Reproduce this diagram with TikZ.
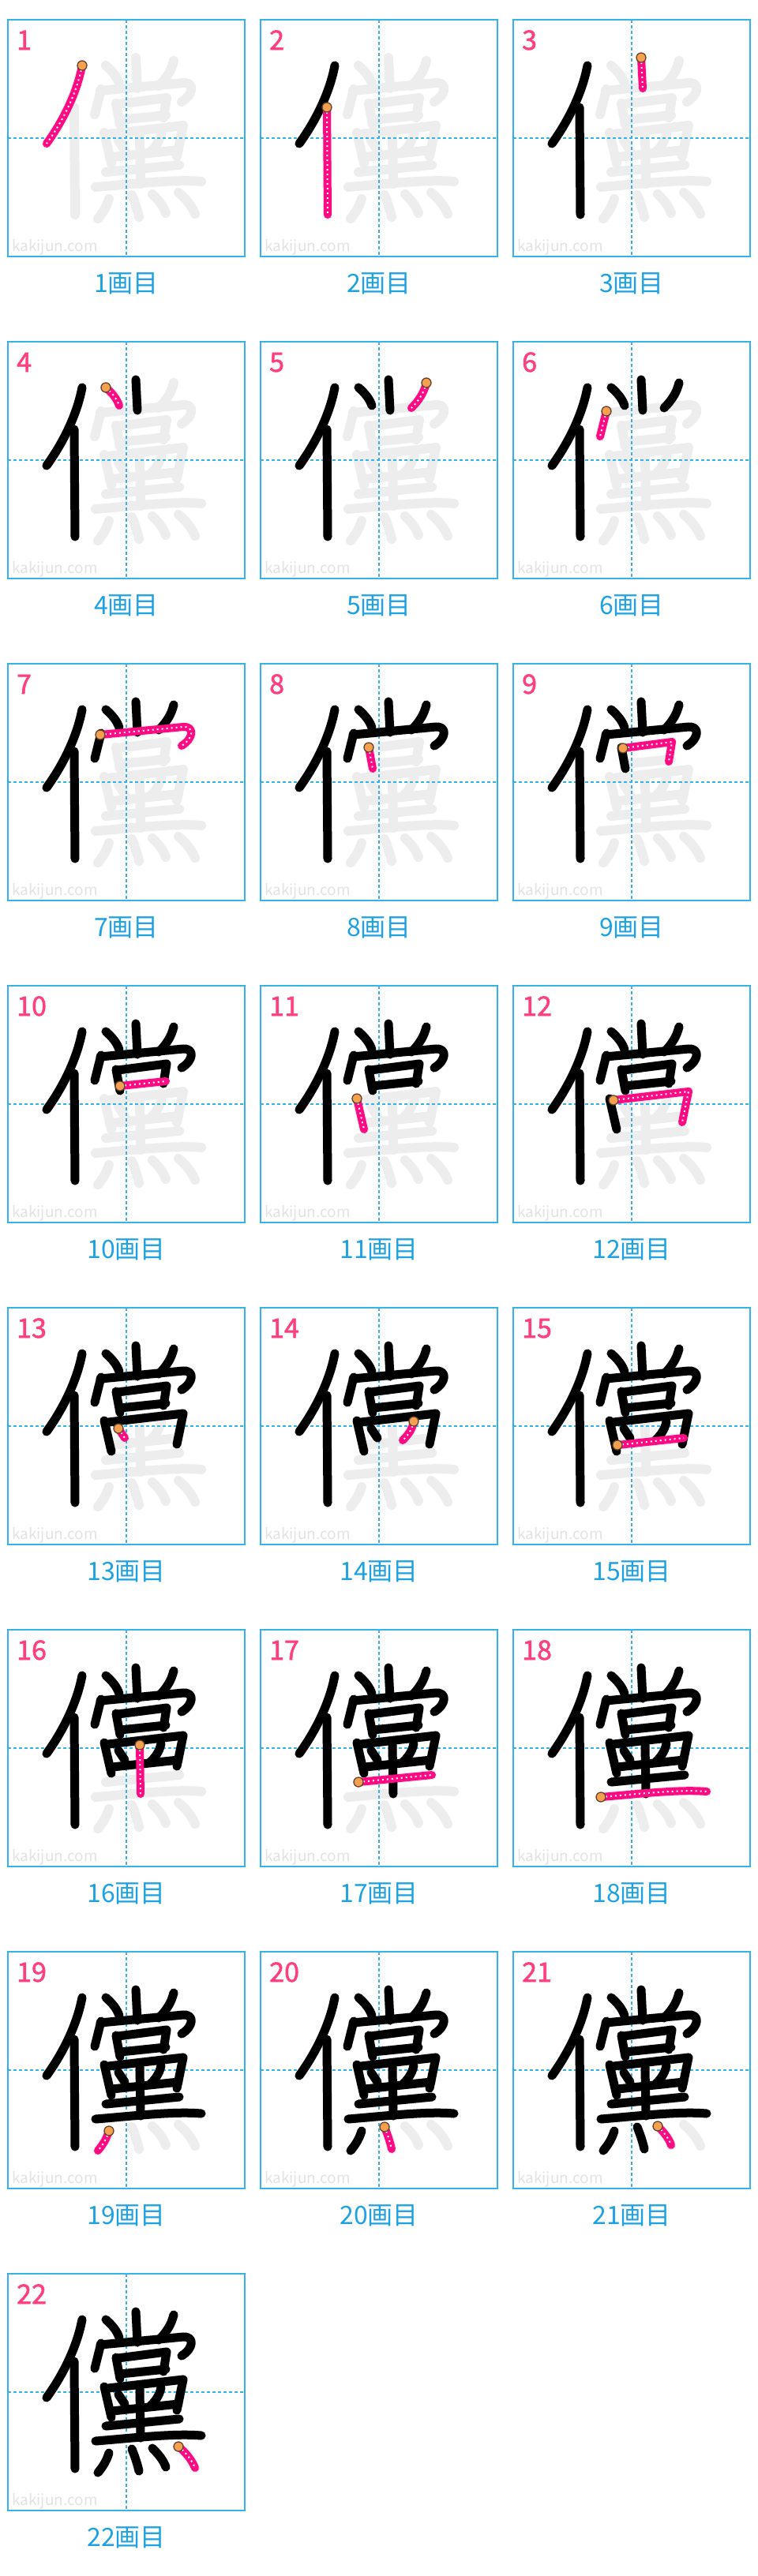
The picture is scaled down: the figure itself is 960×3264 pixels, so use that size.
\documentclass[tikz,border=0pt]{standalone}
\usepackage{fontspec}
\setmainfont{Noto Sans CJK JP}
\newfontfamily\numfont[FakeBold=1.6]{Noto Sans CJK JP}

\definecolor{framecol}{HTML}{33B3EA}
\definecolor{labelcol}{HTML}{1DA1E4}
\definecolor{numcol}{HTML}{FF3F7E}
\definecolor{hotpink}{HTML}{FF0A84}
\definecolor{ghost}{HTML}{EDEDED}
\definecolor{markcol}{HTML}{E2E2E2}
\definecolor{dotfill}{HTML}{F5A04E}
\definecolor{dotedge}{HTML}{5E4330}

\tikzset{
  ghoststroke/.style={draw=ghost, line width=12pt, line cap=round, line join=round},
  donestroke/.style={draw=black, line width=11pt, line cap=round, line join=round},
  nowstroke/.style={draw=hotpink, line width=10pt, line cap=round, line join=round,
    postaction={draw=white, line width=2pt, line cap=butt, dash pattern=on 2pt off 4pt}},
  startdot/.style={draw=dotedge, fill=dotfill, line width=1.3pt},
  cellframe/.style={draw=framecol, line width=1.4pt},
  guide/.style={draw=framecol, line width=1.3pt, dash pattern=on 4pt off 3pt},
  cellnum/.style={anchor=base west, inner sep=0pt, text=numcol, font=\numfont\fontsize{34}{36}\selectfont},
  caption/.style={anchor=base, inner sep=0pt, text=labelcol, font=\fontsize{32}{34}\selectfont},
  watermark/.style={anchor=base west, inner sep=0pt, text=markcol, font=\fontsize{19}{20}\selectfont},
}

\newcommand\kanjistroke[2]{%
  \ifcase#2\relax\or
  \draw[#1] (94,58) coordinate (st) .. controls (88,90) and (72,125) .. (49,157);\or
  \draw[#1] (84,111) coordinate (st) -- (85,247);\or
  \draw[#1] (162,48) coordinate (st) -- (164,87);\or
  \draw[#1] (124,58) coordinate (st) .. controls (132,65) and (138,72) .. (141,81);\or
  \draw[#1] (210,52) coordinate (st) .. controls (207,65) and (200,75) .. (191,84);\or
  \draw[#1] (118,88) coordinate (st) -- (110,120);\or
  \draw[#1] (117,90) coordinate (st) -- (222,80) .. controls (236,79) and (236,94) .. (220,104);\or
  \draw[#1] (137,106) coordinate (st) -- (142,133);\or
  \draw[#1] (139,107) coordinate (st) -- (201,99) -- (197,124);\or
  \draw[#1] (142,127) coordinate (st) -- (200,121);\or
  \draw[#1] (122,143) coordinate (st) -- (131,182);\or
  \draw[#1] (127,145) coordinate (st) -- (222,134) -- (214,173);\or
  \draw[#1] (140,153) coordinate (st) -- (148,165);\or
  \draw[#1] (194,144) coordinate (st) .. controls (192,155) and (186,162) .. (180,168);\or
  \draw[#1] (132,174) coordinate (st) -- (216,165);\or
  \draw[#1] (167,146) coordinate (st) -- (168,208);\or
  \draw[#1] (124,193) coordinate (st) -- (217,184);\or
  \draw[#1] (111,212) coordinate (st) .. controls (160,208) and (210,202) .. (245,205);\or
  \draw[#1] (128,227) coordinate (st) .. controls (125,237) and (120,245) .. (114,252);\or
  \draw[#1] (157,222) coordinate (st) .. controls (161,232) and (164,241) .. (166,250);\or
  \draw[#1] (183,221) coordinate (st) .. controls (190,228) and (197,236) .. (200,245);\or
  \draw[#1] (216,219) coordinate (st) .. controls (225,226) and (233,236) .. (237,246);\fi}

\begin{document}
\begin{tikzpicture}[x=1pt,y=-1pt]
\useasboundingbox (0,0) rectangle (960,3264);
\foreach \idx in {1,...,22}{
  \pgfmathtruncatemacro\col{mod(\idx-1,3)}
  \pgfmathtruncatemacro\row{(\idx-1)/3}
  \begin{scope}[shift={(10+320*\col,25+408*\row)}]
    \foreach \s in {1,...,22}{\kanjistroke{ghoststroke}{\s}}
    \draw[guide] (150,0) -- (150,300);
    \draw[guide] (0,150) -- (300,150);
    \draw[cellframe] (0,0) rectangle (300,300);
    \node[watermark] (wm\idx) at (5,293) {kakijun.com};
    \node[cellnum] (num\idx) at (11,38) {\idx};
    \node[caption] (cap\idx) at (150,345) {{\idx}画目};
    \foreach \s in {1,...,22}{\ifnum\s<\idx \kanjistroke{donestroke}{\s}\fi}
    \kanjistroke{nowstroke}{\idx}
    \draw[startdot] (st) circle (6);
  \end{scope}
}
\end{tikzpicture}
\end{document}
